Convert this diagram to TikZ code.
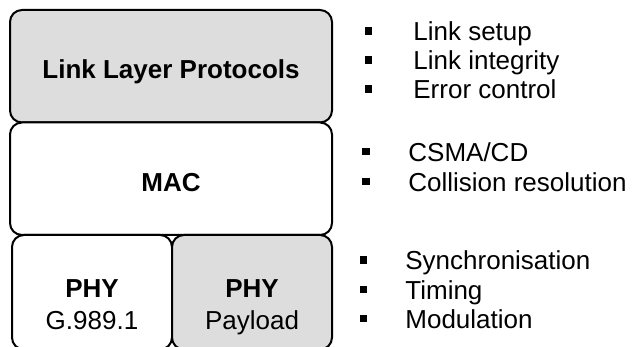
\documentclass[tikz,border=0pt]{standalone}
\usepackage{fontspec}
\setmainfont{Liberation Sans}
\usetikzlibrary{positioning}
\definecolor{layergray}{RGB}{221,221,221}
\tikzset{
  layerbox/.style={
    rectangle,
    rounded corners=6pt,
    draw=black,
    line width=1pt,
    outer sep=0pt,
    inner sep=0pt,
    minimum width=161pt,
    minimum height=56.25pt,
    text height=12.3pt,
    text depth=0pt,
    font=\fontsize{13}{16}\selectfont\bfseries
  },
  phybox/.style={
    layerbox,
    minimum width=80pt,
    minimum height=57.25pt
  },
  phytext/.style={
    align=center,
    inner sep=0pt,
    text depth=0pt,
    font=\fontsize{13}{16}\selectfont
  },
  bulletmark/.style={
    rectangle,
    fill=black,
    inner sep=0pt,
    minimum size=3.6pt
  },
  itemtext/.style={
    anchor=base west,
    inner sep=0pt,
    font=\fontsize{13}{16}\selectfont
  }
}

\begin{document}
\begin{tikzpicture}[x=0.5pt, y=0.5pt, node distance=0pt]
\useasboundingbox (0,0) rectangle (633,347);

% protocol stack
\node[layerbox, fill=layergray] (llp) at (171,280.75) {Link Layer Protocols};
\node[layerbox, fill=white, below=of llp] (mac) {MAC};
\node[phybox, fill=white, anchor=north west] (phyg) at ([xshift=1pt]mac.south west) {};
\node[phybox, fill=layergray, right=of phyg] (phyp) {};
\node[phytext] (phyg-text) at ([yshift=-6.25pt]phyg.center) {\textbf{PHY}\\G.989.1};
\node[phytext] (phyp-text) at ([yshift=-6.25pt]phyp.center) {\textbf{PHY}\\Payload};

% functions of each layer
\foreach \n/\y/\t in {setup/316/Link setup, integrity/287/Link integrity, error/258/Error control} {
  \node[bulletmark] (bul-\n) at (368.5,\y) {};
  \node[itemtext] (item-\n) at (413,\y-9.5) {\t};
}
\foreach \n/\y/\t in {csma/195.5/{CSMA/CD}, collision/165.5/Collision resolution} {
  \node[bulletmark] (bul-\n) at (366,\y) {};
  \node[itemtext] (item-\n) at (408,\y-10) {\t};
}
\foreach \n/\y/\t in {sync/87/Synchronisation, timing/57.5/Timing, modulation/28.5/Modulation} {
  \node[bulletmark] (bul-\n) at (363.5,\y) {};
  \node[itemtext] (item-\n) at (405,\y-10) {\t};
}
\end{tikzpicture}
\end{document}
